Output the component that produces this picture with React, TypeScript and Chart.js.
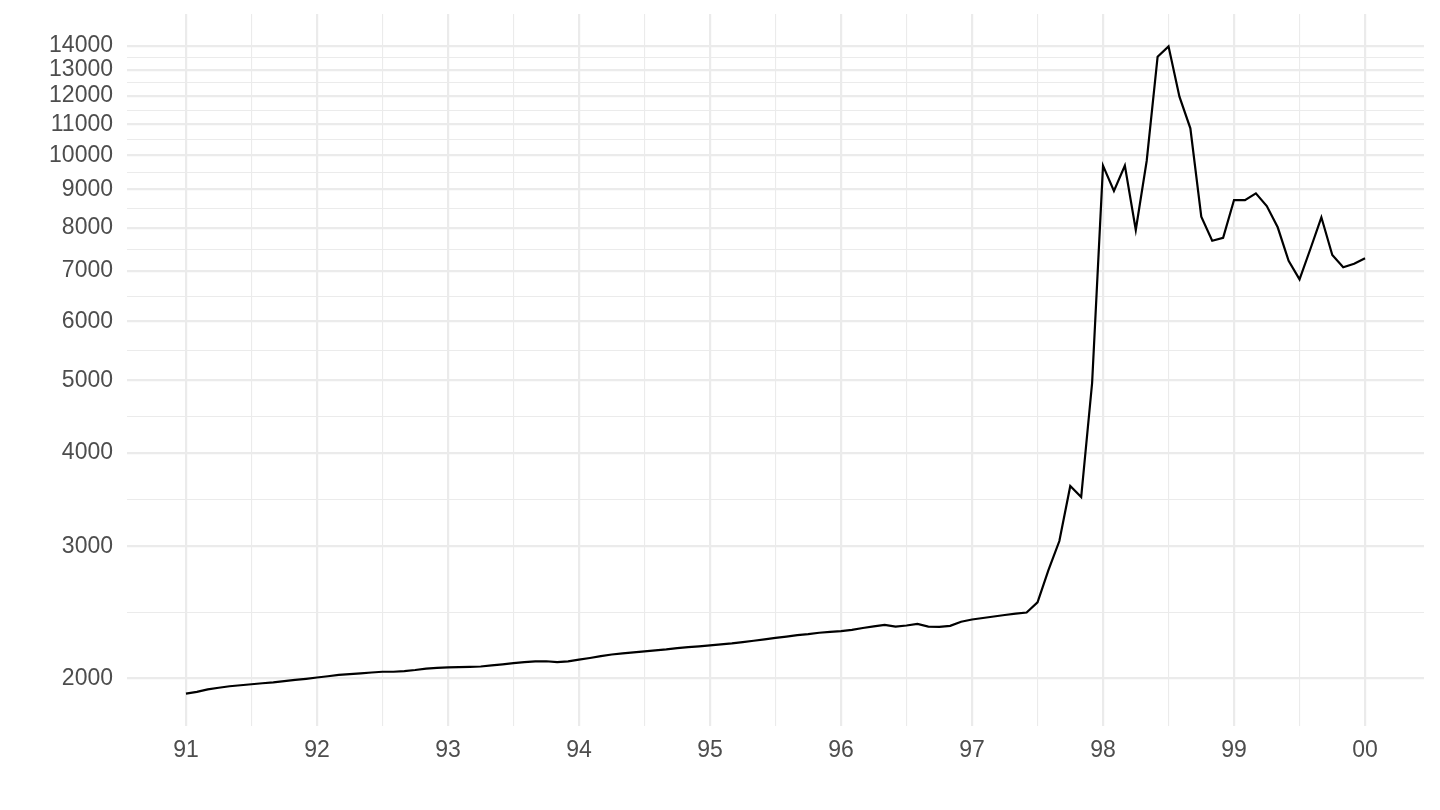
import React from 'react';
import Chart from 'chart.js/auto';

// monthly values, Jan..Dec
const rate1991 = [1907, 1917, 1932, 1942, 1951, 1957, 1963, 1969, 1974, 1982, 1989, 1996];
const rate1992 = [2004, 2012, 2020, 2025, 2030, 2035, 2040, 2040, 2044, 2051, 2060, 2064];
const rate1993 = [2068, 2069, 2071, 2073, 2080, 2087, 2095, 2101, 2106, 2107, 2101, 2106];
const rate1994 = [2117, 2128, 2140, 2151, 2159, 2165, 2172, 2179, 2185, 2194, 2200, 2206];
const rate1995 = [2212, 2219, 2226, 2235, 2244, 2254, 2264, 2273, 2283, 2290, 2300, 2306];
const rate1996 = [2311, 2321, 2334, 2345, 2357, 2344, 2352, 2363, 2344, 2342, 2349, 2379];
const rate1997 = [2396, 2407, 2418, 2429, 2439, 2448, 2525, 2788, 3050, 3612, 3492, 4960];
const rate1998 = [9682, 8956, 9682, 7944, 9824, 13538, 13978, 11972, 10862, 8276, 7684, 7756];
const rate1999 = [8710, 8710, 8892, 8552, 8010, 7226, 6824, 7498, 8260, 7354, 7082, 7160];
const rate2000 = [7280];

const startYear = 1991;

const xTickYears = [1991, 1992, 1993, 1994, 1995, 1996, 1997, 1998, 1999, 2000];
const xTickLabels = ['91', '92', '93', '94', '95', '96', '97', '98', '99', '00'];
const yTickValues = [2000, 3000, 4000, 5000, 6000, 7000, 8000, 9000, 10000, 11000, 12000, 13000, 14000];

const GRID = '#EBEBEB';
const TEXT = '#4D4D4D';
const FONT = '"Liberation Sans", Arial, Helvetica, sans-serif';

export default function App() {
    const chartRef = React.useRef<HTMLCanvasElement>(null);
    const chartInstance = React.useRef<Chart | null>(null);

    React.useEffect(() => {
        if (!chartRef.current) return;
        const ctx = chartRef.current.getContext('2d');
        if (!ctx) return;
        if (chartInstance.current) chartInstance.current.destroy();

        const values = [...rate1991, ...rate1992, ...rate1993, ...rate1994, ...rate1995,
            ...rate1996, ...rate1997, ...rate1998, ...rate1999, ...rate2000];
        const points = values.map((v, i) => ({ x: startYear + i / 12, y: v }));

        // ggplot-like 5% expansion
        const xMin = points[0].x, xMax = points[points.length - 1].x;
        const xPad = (xMax - xMin) * 0.05;
        const lMin = Math.log10(Math.min(...values)), lMax = Math.log10(Math.max(...values));
        const lPad = (lMax - lMin) * 0.05;

        // minor breaks: half way between majors (in log space for y)
        const xTicks: number[] = [];
        xTickYears.forEach((y, i) => {
            xTicks.push(y);
            if (i < xTickYears.length - 1) xTicks.push((y + xTickYears[i + 1]) / 2);
        });
        const yTicks: number[] = [];
        yTickValues.forEach((v, i) => {
            yTicks.push(v);
            if (i < yTickValues.length - 1) yTicks.push(Math.sqrt(v * yTickValues[i + 1]));
        });

        chartInstance.current = new Chart(ctx, {
            type: 'line',
            data: {
                datasets: [{
                    data: points,
                    borderColor: '#000000',
                    borderWidth: 2.2,
                    pointRadius: 0,
                    tension: 0,
                    fill: false,
                }]
            },
            options: {
                animation: false,
                responsive: true,
                maintainAspectRatio: false,
                layout: { padding: { left: 0, right: 8, top: 6, bottom: 0 } },
                plugins: { legend: { display: false }, tooltip: { enabled: false } },
                scales: {
                    x: {
                        type: 'linear',
                        min: xMin - xPad,
                        max: xMax + xPad,
                        border: { display: false },
                        grid: {
                            color: GRID,
                            drawTicks: false,
                            lineWidth: (c: any) => (Number.isInteger(c.tick?.value) ? 2.2 : 1.1),
                        },
                        afterBuildTicks: (scale: any) => {
                            scale.ticks = xTicks.map((v) => ({ value: v }));
                        },
                        afterFit: (scale: any) => {
                            scale.height = 76;
                            scale.paddingLeft = 0;
                            scale.paddingRight = 0;
                        },
                        ticks: {
                            autoSkip: false,
                            maxRotation: 0,
                            padding: 11,
                            color: TEXT,
                            font: { family: FONT, size: 23 },
                            callback: (v: any) => {
                                const i = xTickYears.indexOf(Number(v));
                                return i >= 0 ? xTickLabels[i] : '';
                            },
                        },
                    },
                    y: {
                        type: 'logarithmic',
                        min: Math.pow(10, lMin - lPad),
                        max: Math.pow(10, lMax + lPad),
                        border: { display: false },
                        grid: {
                            color: GRID,
                            drawTicks: false,
                            lineWidth: (c: any) => (yTickValues.includes(c.tick?.value) ? 2.2 : 1.1),
                        },
                        afterBuildTicks: (scale: any) => {
                            scale.ticks = yTicks.map((v) => ({ value: v }));
                        },
                        afterFit: (scale: any) => {
                            scale.width = 119;
                            scale.paddingTop = 0;
                            scale.paddingBottom = 0;
                        },
                        ticks: {
                            autoSkip: false,
                            padding: 14,
                            color: TEXT,
                            font: { family: FONT, size: 23 },
                            callback: (v: any) => (yTickValues.includes(Number(v)) ? String(v) : ''),
                        },
                    },
                },
            },
        });

        return () => {
            if (chartInstance.current) {
                chartInstance.current.destroy();
                chartInstance.current = null;
            }
        };
    }, []);

    return (
        <div style={{ width: 1424, height: 794, position: 'relative', background: '#ffffff' }}>
            <canvas ref={chartRef}></canvas>
        </div>
    );
}
